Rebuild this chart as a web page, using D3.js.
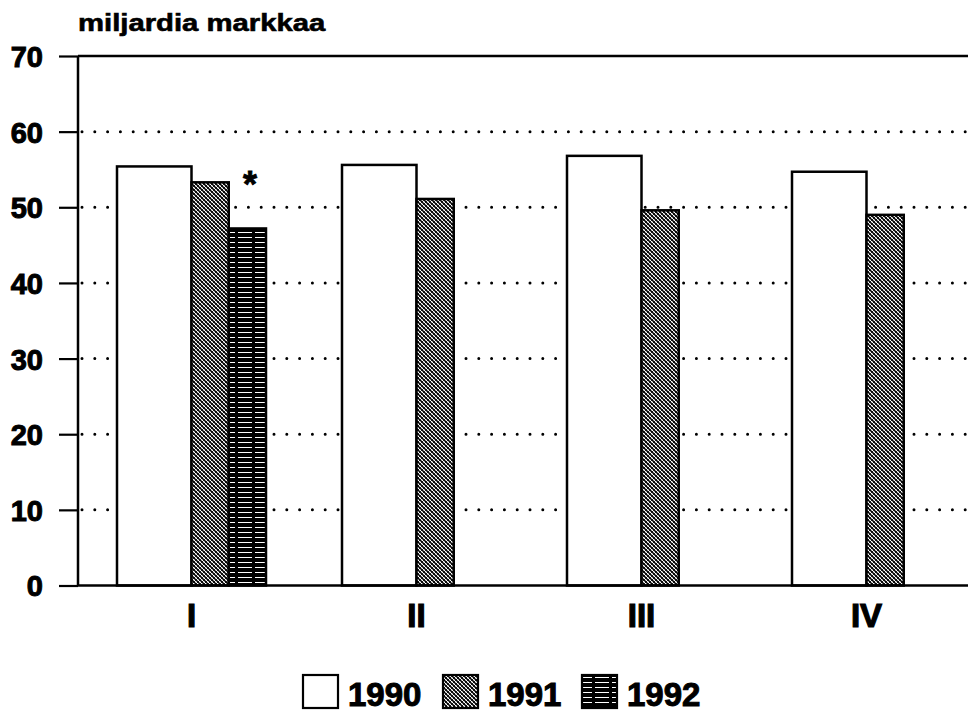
<!DOCTYPE html>
<html><head><meta charset="utf-8">
<script src="https://cdn.jsdelivr.net/npm/d3@7"></script>
<style>
html,body{margin:0;padding:0;background:#fff;}
svg text{font-family:"Liberation Sans",Arial,Helvetica,sans-serif;font-weight:bold;fill:#000;}
</style></head>
<body>
<svg id="chart" width="968" height="713"></svg>
<script>
// ---- data ----
const categories = ["I", "II", "III", "IV"];
const seriesNames = ["1990", "1991", "1992"];
const values1990 = [55.4, 55.6, 56.8, 54.7];
const values1991 = [53.3, 51.1, 49.6, 49.0];
const values1992 = [47.2, null, null, null];
const yTicks = [0, 10, 20, 30, 40, 50, 60, 70];
const yLabel = "miljardia markkaa";
const note = "*";

(function () {
// ---- layout ----
const svg = d3.select("#chart");
const mLeft = 78, mRight = 978, mTop = 56, mBottom = 585.5;
const y = d3.scaleLinear().domain([0, 70]).range([mBottom, mTop]);
const x = d3.scaleBand().domain(categories).range([mLeft, mRight]).padding(0);
// inner units: 1990 bar is 2 units wide, others 1 unit
const inner = d3.scaleLinear().domain([0, 4]).range([39, 188]);
const spans = [[0, 2], [2, 3], [3, 4]];
const series = [values1990, values1991, values1992];

const defs = svg.append("defs");
const p1 = defs.append("pattern").attr("id", "pat1991").attr("patternUnits", "userSpaceOnUse")
  .attr("width", 4).attr("height", 4);
p1.append("rect").attr("width", 4).attr("height", 4).attr("fill", "#fff");
p1.append("path").attr("d", "M0,0L4,4M-1,3L1,5M3,-1L5,1").attr("stroke", "#000").attr("stroke-width", 1.5);
p1.append("path").attr("d", "M4,0L0,4").attr("stroke", "#000").attr("stroke-width", 0.8);
const p2 = defs.append("pattern").attr("id", "pat1992").attr("patternUnits", "userSpaceOnUse")
  .attr("width", 17).attr("height", 5);
p2.append("rect").attr("width", 17).attr("height", 5).attr("fill", "#000");
p2.append("rect").attr("x", 0).attr("y", 2).attr("width", 14).attr("height", 1).attr("fill", "#fff");
const fills = ["#fff", "url(#pat1991)", "url(#pat1992)"];

// gridlines (dotted)
svg.append("g").selectAll("line").data(yTicks.filter(d => d > 0 && d < 70)).join("line")
  .attr("x1", mLeft + 4).attr("x2", 968).attr("y1", d => y(d)).attr("y2", d => y(d))
  .attr("stroke", "#000").attr("stroke-width", 3).attr("stroke-linecap", "round")
  .attr("stroke-dasharray", "0,12.8");

// bars
categories.forEach((c, i) => {
  series.forEach((vals, s) => {
    const v = vals[i];
    if (v == null) return;
    const x0 = x(c) + inner(spans[s][0]), x1 = x(c) + inner(spans[s][1]);
    svg.append("rect").attr("x", x0).attr("y", y(v)).attr("width", x1 - x0).attr("height", y(0) - y(v))
      .attr("fill", fills[s]).attr("stroke", "#000").attr("stroke-width", 2.5);
  });
});

// asterisk
svg.append("text").attr("x", x("I") + inner(4) - 16).attr("y", y(values1991[0]) + 15)
  .attr("font-size", 36).attr("text-anchor", "middle")
  .attr("stroke", "#000").attr("stroke-width", 0.8).text(note);

// axes frame
const yAxis = d3.axisLeft(y).tickValues(yTicks).tickSize(19).tickPadding(16).tickFormat(d3.format("d"));
const gy = svg.append("g").attr("transform", `translate(${mLeft},0)`).call(yAxis);
gy.select(".domain").remove();
gy.selectAll(".tick line").attr("stroke", "#000").attr("stroke-width", 2.2);
gy.selectAll(".tick text").attr("font-size", 29).attr("dy", "0.36em")
  .style("font-family", '"Liberation Sans",Arial,sans-serif').style("font-weight", "bold")
  .attr("stroke", "#000").attr("stroke-width", 1);
svg.append("line").attr("x1", mLeft).attr("x2", mLeft).attr("y1", mTop).attr("y2", mBottom)
  .attr("stroke", "#000").attr("stroke-width", 2.5);
svg.append("line").attr("x1", mLeft).attr("x2", 968).attr("y1", mTop).attr("y2", mTop)
  .attr("stroke", "#000").attr("stroke-width", 2.5);
svg.append("line").attr("x1", mLeft).attr("x2", 968).attr("y1", mBottom).attr("y2", mBottom)
  .attr("stroke", "#000").attr("stroke-width", 2.5);

// category labels
svg.append("g").selectAll("text").data(categories).join("text")
  .attr("x", d => x(d) + inner(2)).attr("y", 627).attr("text-anchor", "middle")
  .attr("font-size", 33).attr("stroke", "#000").attr("stroke-width", 1.2).text(d => d);

// y label (wide heavy face -> horizontally stretched)
svg.append("text").attr("transform", "translate(78,31) scale(1.22,1)").attr("font-size", 24)
  .attr("stroke", "#000").attr("stroke-width", 0.6).text(yLabel);

// legend
const legendX = [303, 443, 582];
const lg = svg.append("g");
seriesNames.forEach((n, s) => {
  lg.append("rect").attr("x", legendX[s]).attr("y", 675).attr("width", 35).attr("height", 33)
    .attr("fill", fills[s]).attr("stroke", "#000").attr("stroke-width", 2.2);
  lg.append("text").attr("x", legendX[s] + 45).attr("y", 706).attr("font-size", 33)
    .attr("stroke", "#000").attr("stroke-width", 1).text(n);
});
})();
</script>
</body></html>
